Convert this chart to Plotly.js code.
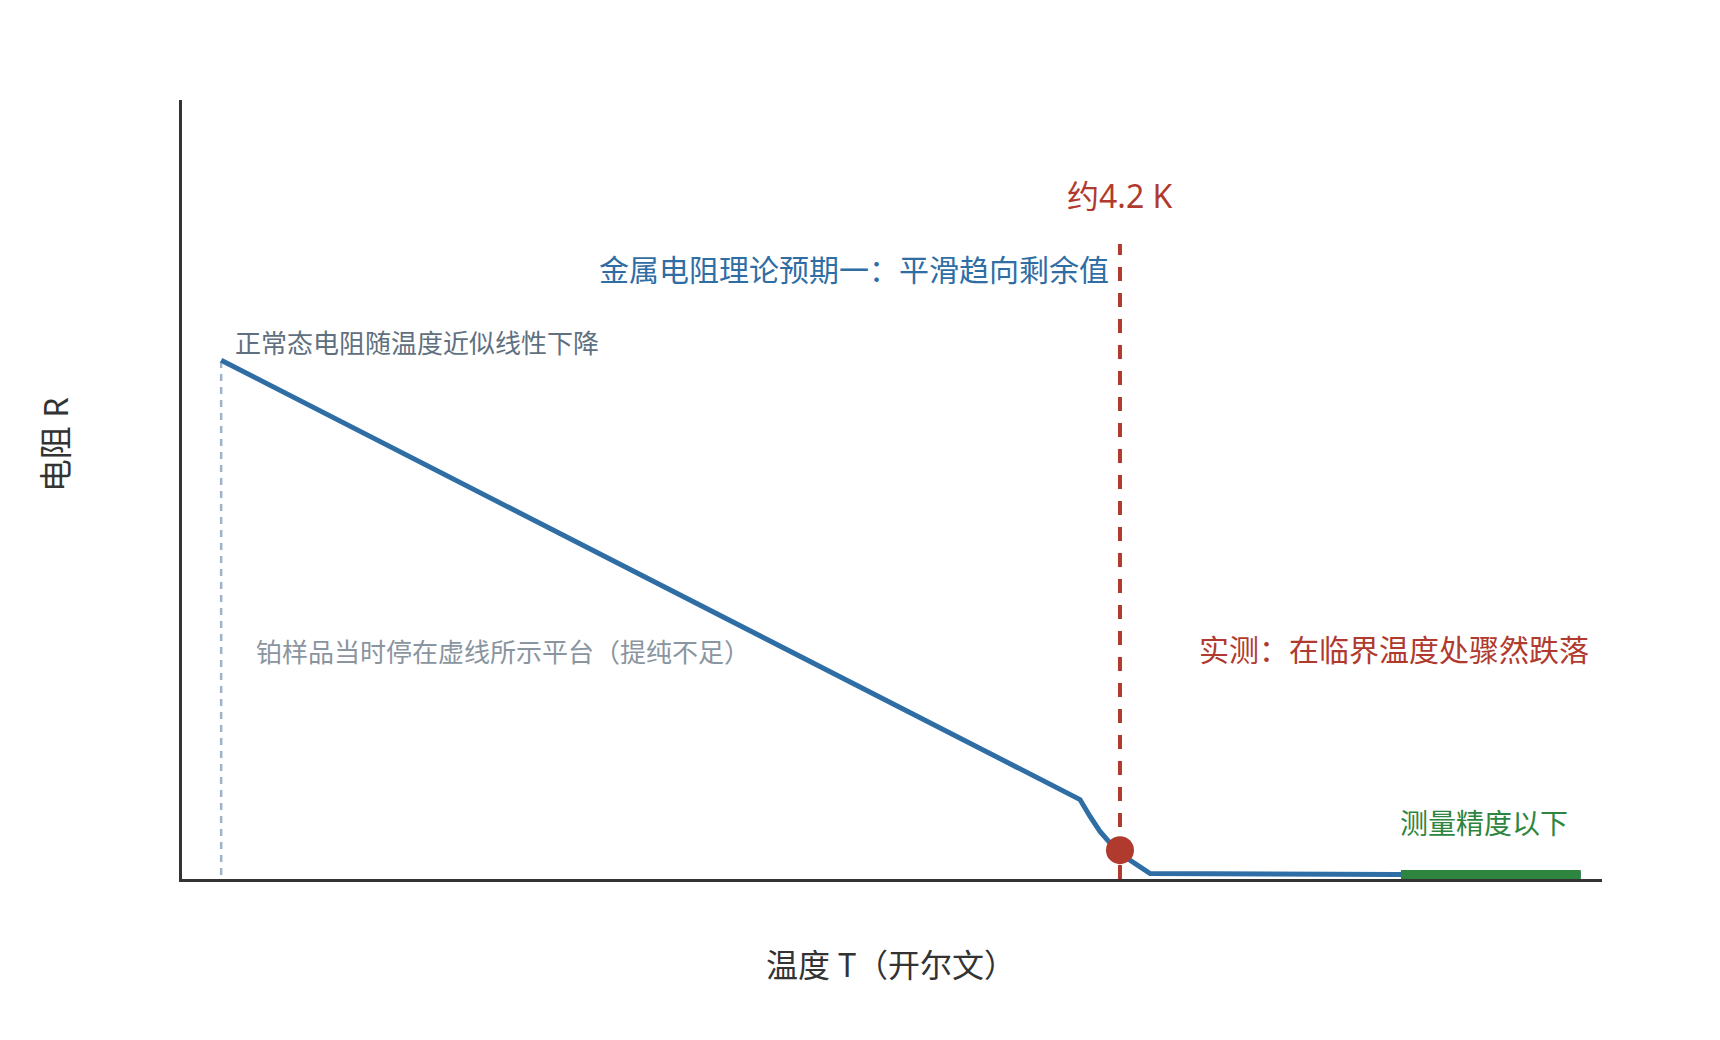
<!DOCTYPE html>
<html>
<head>
<meta charset="utf-8">
<script src="https://cdn.plot.ly/plotly-3.0.1.min.js"></script>
<style>
  html, body { margin: 0; padding: 0; background: #fff; }
  #myDiv { width: 1720px; height: 1040px; }
</style>
</head>
<body>
<div id="myDiv"></div>
<script>
// resistance curve (temperature in K, resistance in arbitrary units)
var tempK = [6.404, 4.298, 4.273, 4.249, 4.224, 4.2, 4.175, 4.151, 4.126, 3.07];
var resist = [6.66, 1.02, 0.80, 0.61, 0.46, 0.37, 0.24, 0.15, 0.07, 0.05];

// platinum plateau marker (dotted)
var platT = [6.404, 6.404];
var platR = [0.05, 6.66];

// critical temperature line
var critT = [4.2, 4.2];
var critR = [0, 8.15];
var dotT = [4.2];
var dotR = [0.37];

// below measurement precision
var lowT = [3.511, 3.07];
var lowR = [0.05, 0.05];

var FONT = 'Noto Sans, Noto Sans CJK SC, sans-serif';
var blue = '#2f6ea5';
var red = '#b03a2e';
var green = '#2e8540';

var trace1 = {
  x: platT, y: platR, mode: 'lines', hoverinfo: 'skip',
  line: {color: '#9fb3c8', width: 2.5, dash: '7px,6px'}
};
var trace2 = {
  x: tempK, y: resist, mode: 'lines',
  line: {color: blue, width: 5}
};
var trace3 = {
  x: critT, y: critR, mode: 'lines',
  line: {color: red, width: 4, dash: '14px,12px'}
};
var trace4 = {
  x: lowT, y: lowR, mode: 'lines',
  line: {color: green, width: 10}
};
var trace5 = {
  x: dotT, y: dotR, mode: 'markers',
  marker: {color: red, size: 28}
};

var data = [trace1, trace2, trace3, trace4, trace5];

var layout = {
  width: 1720,
  height: 1040,
  showlegend: false,
  paper_bgcolor: '#ffffff',
  plot_bgcolor: '#ffffff',
  margin: {l: 182, r: 118, t: 100, b: 161},
  font: {family: FONT},
  xaxis: {
    range: [6.5, 3.018], showgrid: false, zeroline: false,
    showticklabels: false, ticks: '',
    showline: true, linecolor: '#333', linewidth: 3
  },
  yaxis: {
    range: [0, 10], showgrid: false, zeroline: false,
    showticklabels: false, ticks: '',
    showline: true, linecolor: '#333', linewidth: 3
  },
  annotations: [
    {text: '约4.2 K', x: 4.2, xref: 'x', y: 0.878, yref: 'paper',
     xanchor: 'center', yanchor: 'middle', showarrow: false,
     font: {size: 32, color: red}},
    {text: '金属电阻理论预期一：平滑趋向剩余值', x: 0.6542, xref: 'paper', y: 0.783, yref: 'paper',
     xanchor: 'right', yanchor: 'middle', showarrow: false,
     font: {size: 30, color: blue}},
    {text: '正常态电阻随温度近似线性下降', x: 0.0359, xref: 'paper', y: 0.688, yref: 'paper',
     xanchor: 'left', yanchor: 'middle', showarrow: false,
     font: {size: 26, color: '#5f7080'}},
    {text: '铂样品当时停在虚线所示平台（提纯不足）', x: 0.0507, xref: 'paper', y: 0.292, yref: 'paper',
     xanchor: 'left', yanchor: 'middle', showarrow: false,
     font: {size: 26, color: '#8a95a0'}},
    {text: '实测：在临界温度处骤然跌落', x: 0.7148, xref: 'paper', y: 0.294, yref: 'paper',
     xanchor: 'left', yanchor: 'middle', showarrow: false,
     font: {size: 30, color: red}},
    {text: '测量精度以下', x: 0.8563, xref: 'paper', y: 0.072, yref: 'paper',
     xanchor: 'left', yanchor: 'middle', showarrow: false,
     font: {size: 28, color: green}},
    {text: '温度 T（开尔文）', x: 0.499, xref: 'paper', y: -0.110, yref: 'paper',
     xanchor: 'center', yanchor: 'middle', showarrow: false,
     font: {size: 32, color: '#333'}},
    {text: '电阻 R', x: -0.0894, xref: 'paper', y: 0.558, yref: 'paper',
     xanchor: 'center', yanchor: 'middle', showarrow: false, textangle: -90,
     font: {size: 33, color: '#333'}}
  ]
};

Plotly.newPlot('myDiv', data, layout, {displayModeBar: false});
</script>
</body>
</html>
